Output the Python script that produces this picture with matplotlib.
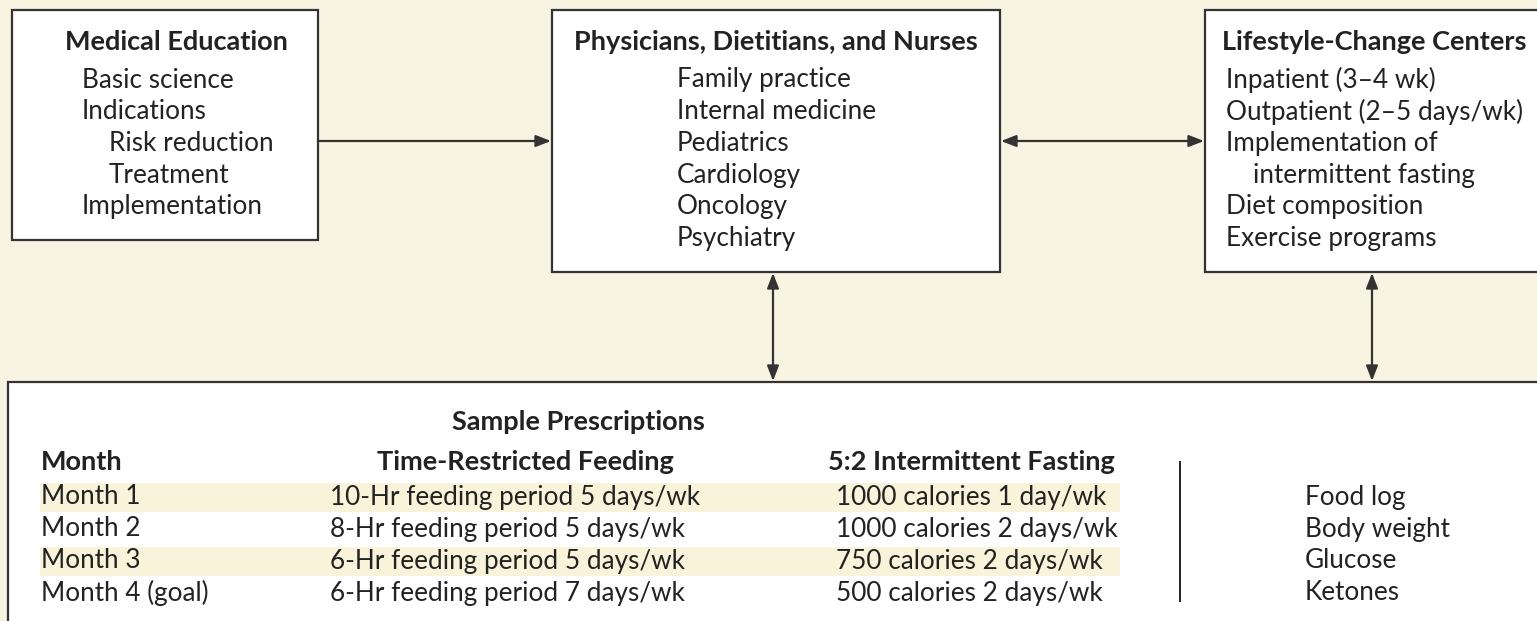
import matplotlib.pyplot as plt
from matplotlib.patches import Rectangle

plt.rcParams['font.family'] = ['Lato', 'DejaVu Sans']

# content
edu_title = 'Medical Education'
edu_items = ['Basic science', 'Indications', 'Risk reduction', 'Treatment', 'Implementation']
edu_indent = [0, 0, 1, 1, 0]

phys_title = 'Physicians, Dietitians, and Nurses'
phys_items = ['Family practice', 'Internal medicine', 'Pediatrics', 'Cardiology', 'Oncology', 'Psychiatry']

center_title = 'Lifestyle-Change Centers'
center_items = ['Inpatient (3\u20134 wk)', 'Outpatient (2\u20135 days/wk)', 'Implementation of',
                'intermittent fasting', 'Diet composition', 'Exercise programs']
center_indent = [0, 0, 0, 1, 0, 0]

table_title = 'Sample Prescriptions'
col_headers = ['Month', 'Time-Restricted Feeding', '5:2 Intermittent Fasting']
months = ['Month 1', 'Month 2', 'Month 3', 'Month 4 (goal)']
trf = ['10-Hr feeding period 5 days/wk', '8-Hr feeding period 5 days/wk',
       '6-Hr feeding period 5 days/wk', '6-Hr feeding period 7 days/wk']
fasting = ['1000 calories 1 day/wk', '1000 calories 2 days/wk',
           '750 calories 2 days/wk', '500 calories 2 days/wk']
monitoring = ['Food log', 'Body weight', 'Glucose', 'Ketones']

BG = '#f7f4e2'
BAND = '#f8f3d9'
INK = '#222222'
EDGE = '#333333'
FS = 18.8
FSB = 19.5

fig = plt.figure(figsize=(15.37, 6.21), dpi=100)
ax = fig.add_axes([0, 0, 1, 1])
ax.set_xlim(0, 1537)
ax.set_ylim(621, 0)
ax.axis('off')
fig.patch.set_facecolor(BG)


def box(x0, y0, x1, y1):
    ax.add_patch(Rectangle((x0, y0), x1 - x0, y1 - y0, facecolor='white',
                           edgecolor=EDGE, lw=1.6, zorder=2))


def arrow(x0, y0, x1, y1, both=False):
    style = '<|-|>' if both else '-|>'
    ax.annotate('', xy=(x1, y1), xytext=(x0, y0),
                arrowprops=dict(arrowstyle=style + ',head_length=0.9,head_width=0.35',
                                color=EDGE, lw=1.6, shrinkA=0, shrinkB=0), zorder=3)


def txt(x, y, s, ha='left', bold=False):
    ax.text(x, y, s, ha=ha, va='center', fontsize=FSB if bold else FS,
            fontweight='bold' if bold else 'normal', color=INK, zorder=4)


# boxes
box(12, 10, 318, 240)
box(552, 10, 1000, 272)
box(1205, 10, 1545, 272)
box(8, 382, 1545, 630)

# arrows
arrow(318, 141, 551, 141)
arrow(1001, 141, 1204, 141, both=True)
arrow(773, 273, 773, 381, both=True)
arrow(1372, 273, 1372, 381, both=True)

line_h = 31.7

# Medical Education
txt(65, 42, edu_title, bold=True)
for i, t in enumerate(edu_items):
    txt(82 + 27 * edu_indent[i], 80 + i * line_h, t)

# Physicians
txt(776, 42, phys_title, ha='center', bold=True)
for i, t in enumerate(phys_items):
    txt(677, 80 + i * line_h, t)

# Lifestyle centers
txt(1222, 42, center_title, bold=True)
for i, t in enumerate(center_items):
    txt(1226 + 27 * center_indent[i], 80 + i * line_h, t)

# table
txt(578, 422, table_title, ha='center', bold=True)
txt(41, 462, col_headers[0], bold=True)
txt(525, 462, col_headers[1], ha='center', bold=True)
txt(971, 462, col_headers[2], ha='center', bold=True)

row_y0 = 497
row_h = 32
for i in range(len(months)):
    y = row_y0 + i * row_h
    if i % 2 == 0:
        ax.add_patch(Rectangle((40, y - 14.5), 1080, 29, facecolor=BAND, edgecolor='none', zorder=3))
    txt(41, y, months[i])
    txt(330, y, trf[i])
    txt(836, y, fasting[i])
    txt(1305, y, monitoring[i])

ax.plot([1180, 1180], [462, 601], color=INK, lw=1.4, zorder=4)

fig.savefig('out.png', dpi=100, facecolor=BG)
